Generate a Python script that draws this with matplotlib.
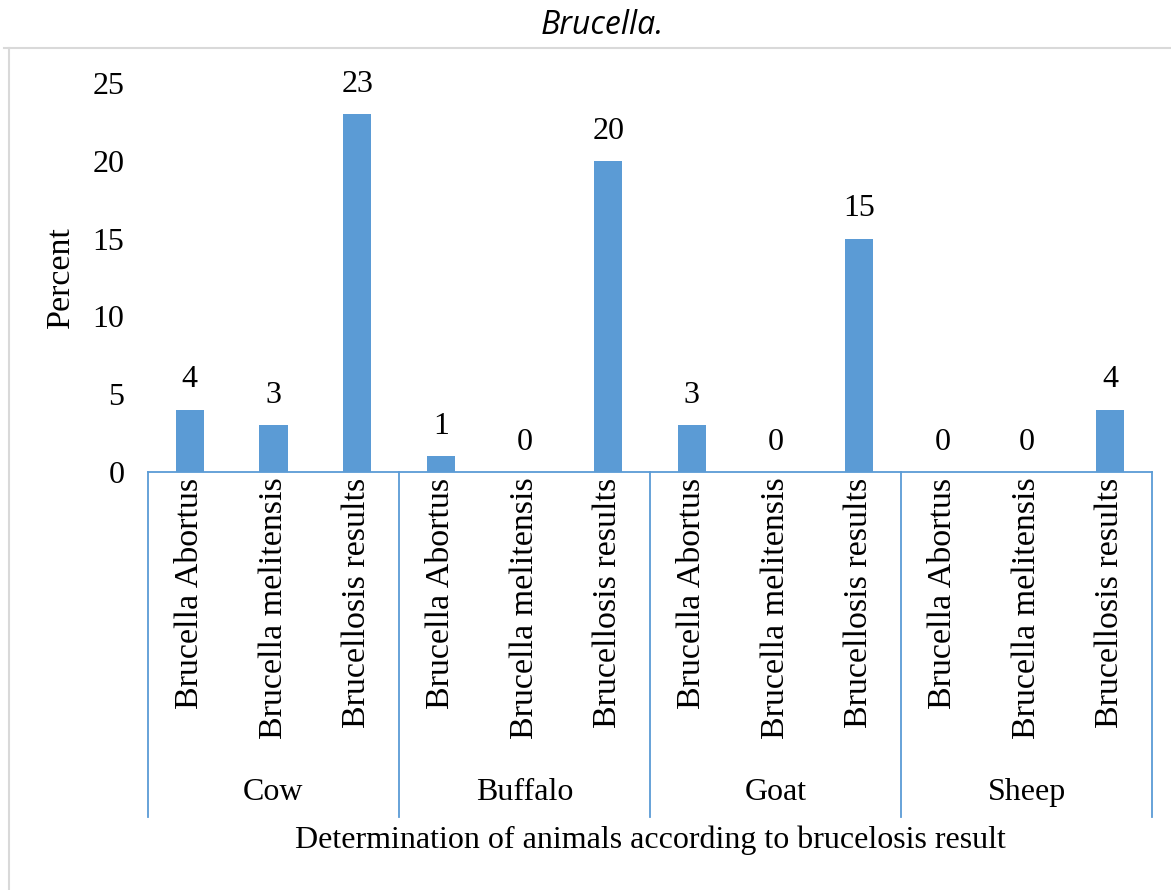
import matplotlib
matplotlib.use("Agg")
import matplotlib.pyplot as plt
from matplotlib.lines import Line2D
import matplotlib.transforms as mtransforms

groups = ["Cow", "Buffalo", "Goat", "Sheep"]
subcats = ["Brucella Abortus", "Brucella melitensis", "Brucellosis results"]
values = [4, 3, 23, 1, 0, 20, 3, 0, 15, 0, 0, 4]

BLUE = "#5B9BD5"
SERIF = "Liberation Serif"
FS = 23
FSV = 24.5

W, H = 1171, 890
fig = plt.figure(figsize=(W / 100, H / 100), dpi=100)
ax = fig.add_axes([148 / W, (H - 472) / H, (1152 - 148) / W, (472 - 83) / H])

n = len(values)
xs = [i + 0.5 for i in range(n)]
bars = ax.bar(xs, values, width=0.335, color=BLUE, zorder=2)
ax.bar_label(bars, labels=[str(v) for v in values], padding=11,
             fontsize=FS, family=SERIF, color="black")

ax.set_xlim(0, n)
ax.set_ylim(0, 25)
ax.set_yticks([0, 5, 10, 15, 20, 25])
ax.tick_params(axis="y", length=0, pad=17, labelsize=FS)
for lab in ax.get_yticklabels():
    lab.set_family(SERIF)
ax.set_xticks([])
for s in ["top", "right", "left"]:
    ax.spines[s].set_visible(False)
ax.spines["bottom"].set_color(BLUE)
ax.spines["bottom"].set_linewidth(1.3)

trans = mtransforms.blended_transform_factory(ax.transData, ax.transAxes)
for i, lab in enumerate(subcats * len(groups)):
    ax.text(xs[i], -0.014, lab, rotation=90, ha="center", va="top",
            fontsize=FSV, family=SERIF, transform=trans)

ng = len(subcats)
for g in range(len(groups) + 1):
    ax.plot([g * ng, g * ng], [0, -0.887], color=BLUE, lw=1.3,
            transform=trans, clip_on=False)
for g, name in enumerate(groups):
    ax.text(g * ng + ng / 2, -0.823, name, ha="center", va="center",
            fontsize=FS, family=SERIF, transform=trans)

ax.set_ylabel("Percent", fontsize=FSV, family=SERIF)
ax.yaxis.set_label_coords(-0.0717, 0.5)
ax.text(0.5, -0.946, "Determination of animals according to brucelosis result",
        ha="center", va="center", fontsize=FS, family=SERIF,
        transform=ax.transAxes)

fig.text(602 / W, 1 - 25 / H, "Brucella.", ha="center", va="center",
         fontsize=23, style="italic", family="Open Sans")

fig.add_artist(Line2D([4 / W, 1], [1 - 48 / H, 1 - 48 / H],
                      transform=fig.transFigure, color="#D9D9D9", lw=1.5))
fig.add_artist(Line2D([9 / W, 9 / W], [0, 1 - 48 / H],
                      transform=fig.transFigure, color="#D9D9D9", lw=1.5))

fig.savefig("out.png", dpi=100)
